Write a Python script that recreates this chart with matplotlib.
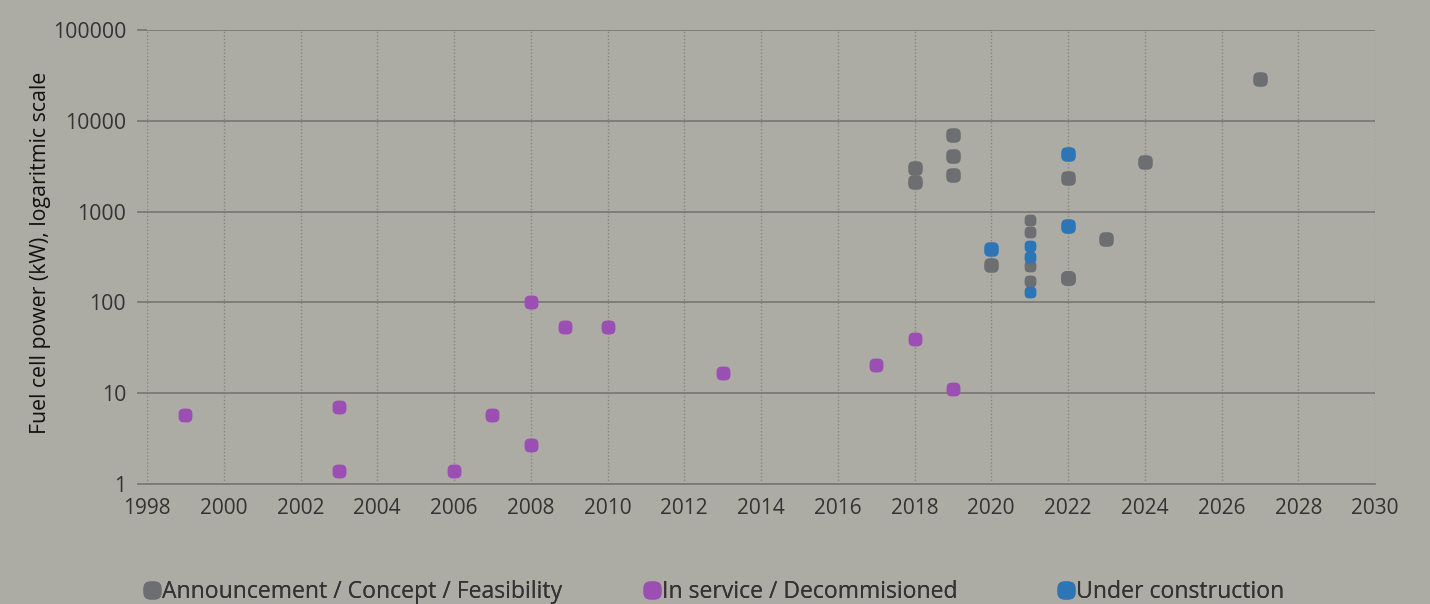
import numpy as np
import matplotlib
matplotlib.use("Agg")
import matplotlib.pyplot as plt
from matplotlib.path import Path
from matplotlib.lines import Line2D

# data
concept_years = [2018, 2018, 2019, 2019, 2019, 2020, 2022, 2022, 2022, 2023, 2024, 2027]
concept_kw = [3000, 2100, 7000, 4100, 2500, 260, 2350, 185, 185, 500, 3500, 29000]
concept_years_2021 = [2021, 2021, 2021, 2021]
concept_kw_2021 = [800, 600, 250, 170]

service_years = [1999, 2003, 2003, 2006, 2007, 2008, 2008, 2008.9, 2010, 2013, 2017, 2018, 2019]
service_kw = [5.8, 7, 1.4, 1.4, 5.8, 2.7, 100, 53, 53, 16.5, 20.5, 40, 11]

construction_years = [2020, 2022, 2022]
construction_kw = [390, 4300, 700]
construction_years_2021 = [2021, 2021, 2021]
construction_kw_2021 = [420, 320, 130]

labels = ["Announcement / Concept / Feasibility", "In service / Decommisioned", "Under construction"]
colors = ["#6d6e71", "#9b4fb2", "#2e75b6"]
bg = "#adaca4"
txt = "#333333"

# rounded square marker
t = np.linspace(0, 2 * np.pi, 100)
px = np.sign(np.cos(t)) * np.abs(np.cos(t)) ** 0.65
py = np.sign(np.sin(t)) * np.abs(np.sin(t)) ** 0.65
rsq = Path(np.column_stack([px, py]))

plt.rcParams['font.family'] = ['Open Sans', 'DejaVu Sans']

fig = plt.figure(figsize=(14.3, 6.04), dpi=100, facecolor=bg)
ax = fig.add_axes([147 / 1430, 1 - 484 / 604, 1228 / 1430, 454 / 604])
ax.set_facecolor(bg)

ax.plot(concept_years, concept_kw, ls="none", marker=rsq, ms=10.5, color=colors[0], mec="none", zorder=3)
ax.plot(concept_years_2021, concept_kw_2021, ls="none", marker=rsq, ms=8.5, color=colors[0], mec="none", zorder=3)
ax.plot(service_years, service_kw, ls="none", marker=rsq, ms=10, color=colors[1], mec="none", zorder=3)
ax.plot(construction_years, construction_kw, ls="none", marker=rsq, ms=10.5, color=colors[2], mec="none", zorder=3)
ax.plot(construction_years_2021, construction_kw_2021, ls="none", marker=rsq, ms=8.5, color=colors[2], mec="none", zorder=3)

ax.set_yscale("log")
ax.set_ylim(1, 100000)
ax.set_xlim(1998, 2030)
ax.set_xticks(range(1998, 2031, 2))
ax.set_yticks([1, 10, 100, 1000, 10000, 100000])
ax.set_yticklabels(["1", "10", "100", "1000", "10000", "100000"])
ax.minorticks_off()

ax.yaxis.grid(True, color="#7a7a76", lw=1.3)
ax.xaxis.grid(True, color="#858580", lw=1, ls=(0, (1, 1.5)))
ax.set_axisbelow(True)
for s in ["left", "right", "top"]:
    ax.spines[s].set_visible(False)
ax.spines["bottom"].set_color("#7a7a76")
ax.spines["bottom"].set_linewidth(1.3)

ax.tick_params(axis="y", length=7, width=1.3, color="#7a7a76", labelsize=15.3, labelcolor=txt, pad=8)
ax.tick_params(axis="x", length=0, labelsize=15, labelcolor=txt, pad=10)

ax.set_ylabel("Fuel cell power (kW), logaritmic scale", fontsize=15.3, color="#111111")
ax.yaxis.set_label_coords(-0.0785, 0.51)

# one legend per entry so each sits where it does in the original
legend_x = [124, 624, 1038]
for lab, c, lx in zip(labels, colors, legend_x):
    h = Line2D([], [], ls="none", marker=rsq, ms=13, color=c, mec="none")
    leg = fig.legend([h], [lab], loc="lower left", bbox_to_anchor=(lx / 1430, -0.035),
                     frameon=False, fontsize=16.6, labelcolor=txt, handlelength=0.6,
                     handletextpad=0.15)
    fig.add_artist(leg)

fig.savefig("out.png", dpi=100, facecolor=bg)
